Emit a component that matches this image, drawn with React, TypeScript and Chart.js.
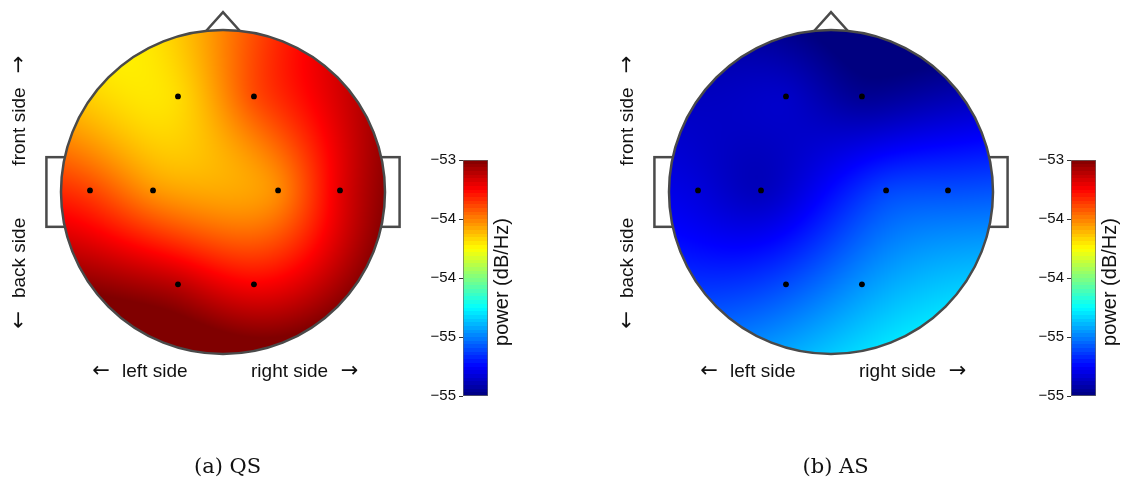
import React, { useEffect, useRef } from "react";
import { Chart, registerables } from "chart.js";
Chart.register(...registerables);

// ---- data (head units: radius 1 = scalp outline) ----
const ELECTRODE_X = [-0.278, 0.191, -0.821, -0.432, 0.34, 0.722, -0.278, 0.191];
const ELECTRODE_Y = [0.59, 0.59, 0.01, 0.01, 0.01, 0.01, -0.57, -0.57];
const QS_POWER = [-53.68, -53.4, -53.38, -53.54, -53.52, -53.2, -53.12, -53.24];
const AS_POWER = [-54.86, -54.96, -54.82, -54.88, -54.62, -54.6, -54.6, -54.46];
const CBAR_MIN = -55;
const CBAR_MAX = -53;
const CBAR_TICKS = [-55, -54.5, -54, -53.5, -53];
const CBAR_TICK_LABELS = ["\u221255", "\u221255", "\u221254", "\u221254", "\u221253"];
const CBAR_TITLE = "power (dB/Hz)";
const PANEL_CAPTIONS = ["(a) QS", "(b) AS"];
const LABEL_LEFT = "left side";
const LABEL_RIGHT = "right side";
const LABEL_FRONT = "front side";
const LABEL_BACK = "back side";

// ---- layout constants ----
const PANEL_LEFT = [0, 608];
const HEAD_W = 430;
const HEAD_H = 481;
const HEAD_CX = 223;
const HEAD_CY = 192;
const HEAD_R = 162;
const XR = 1.2;
const YR = 1.15;
const CB_LEFT_OFFSET = 420;
const CB_TOP = 140;
const CB_W = 110;
const CB_H = 275;
const OUTLINE = "#4a4a4a";
const SANS = "'Liberation Sans', Arial, Helvetica, sans-serif";
const ARROW_FONT = "21px 'DejaVu Sans', sans-serif";

function clamp01(v: number) {
  return v < 0 ? 0 : v > 1 ? 1 : v;
}
function jet(t: number): [number, number, number] {
  t = clamp01(t);
  const r = clamp01(1.5 - Math.abs(4 * t - 3));
  const g = clamp01(1.5 - Math.abs(4 * t - 2));
  const b = clamp01(1.5 - Math.abs(4 * t - 1));
  return [Math.round(r * 255), Math.round(g * 255), Math.round(b * 255)];
}

function green(r: number) {
  return r > 1e-12 ? r * r * (Math.log(r) - 1) : 0;
}
function solve(A: number[][], b: number[]) {
  const n = b.length;
  const M = A.map((row, i) => [...row, b[i]]);
  for (let c = 0; c < n; c++) {
    let p = c;
    for (let r = c + 1; r < n; r++) if (Math.abs(M[r][c]) > Math.abs(M[p][c])) p = r;
    [M[c], M[p]] = [M[p], M[c]];
    for (let r = 0; r < n; r++) {
      if (r === c) continue;
      const f = M[r][c] / M[c][c];
      for (let k = c; k <= n; k++) M[r][k] -= f * M[c][k];
    }
  }
  return M.map((row, i) => row[n] / row[i]);
}
// biharmonic spline with constant + linear terms
function makeSpline(xs: number[], ys: number[], vs: number[]) {
  const n = xs.length;
  const A: number[][] = [];
  for (let i = 0; i < n; i++) {
    const row: number[] = [];
    for (let j = 0; j < n; j++) row.push(green(Math.hypot(xs[i] - xs[j], ys[i] - ys[j])));
    row.push(1, xs[i], ys[i]);
    A.push(row);
  }
  A.push([...xs.map(() => 1), 0, 0, 0]);
  A.push([...xs, 0, 0, 0]);
  A.push([...ys, 0, 0, 0]);
  const sol = solve(A, [...vs, 0, 0, 0]);
  const w = sol.slice(0, n);
  const [a0, a1, a2] = sol.slice(n);
  return (x: number, y: number) => {
    let s = a0 + a1 * x + a2 * y;
    for (let j = 0; j < n; j++) s += w[j] * green(Math.hypot(x - xs[j], y - ys[j]));
    return s;
  };
}

function HeadMap({ values, caption, left }: { values: number[]; caption: string; left: number }) {
  const ref = useRef<HTMLCanvasElement>(null);
  useEffect(() => {
    const spline = makeSpline(ELECTRODE_X, ELECTRODE_Y, values);
    const headPlugin = {
      id: "headPlugin",
      beforeDatasetsDraw(chart: any) {
        const { ctx } = chart;
        const x = chart.scales.x;
        const y = chart.scales.y;
        const cx = x.getPixelForValue(0);
        const cy = y.getPixelForValue(0);
        const rx = x.getPixelForValue(1) - cx;
        const ry = cy - y.getPixelForValue(1);
        ctx.save();
        ctx.strokeStyle = OUTLINE;
        ctx.lineWidth = 2.5;
        for (const s of [-1, 1]) {
          const xa = x.getPixelForValue(s * 1.09);
          const xb = x.getPixelForValue(s * 0.9);
          const ya = y.getPixelForValue(0.215);
          const yb = y.getPixelForValue(-0.215);
          ctx.strokeRect(Math.min(xa, xb), ya, Math.abs(xb - xa), yb - ya);
        }
        ctx.beginPath();
        ctx.moveTo(x.getPixelForValue(-0.135), y.getPixelForValue(0.96));
        ctx.lineTo(x.getPixelForValue(0), y.getPixelForValue(1.11));
        ctx.lineTo(x.getPixelForValue(0.135), y.getPixelForValue(0.96));
        ctx.stroke();
        const ox = Math.floor(cx - rx - 2);
        const oy = Math.floor(cy - ry - 2);
        const w = Math.ceil(2 * rx) + 5;
        const h = Math.ceil(2 * ry) + 5;
        const off = document.createElement("canvas");
        off.width = w;
        off.height = h;
        const octx = off.getContext("2d")!;
        const img = octx.createImageData(w, h);
        for (let j = 0; j < h; j++) {
          const hy = y.getValueForPixel(oy + j + 0.5);
          for (let i = 0; i < w; i++) {
            const hx = x.getValueForPixel(ox + i + 0.5);
            if (hx * hx + hy * hy > 1.04) continue;
            const v = spline(hx, hy);
            const [r, g, b] = jet((v - CBAR_MIN) / (CBAR_MAX - CBAR_MIN));
            const k = (j * w + i) * 4;
            img.data[k] = r;
            img.data[k + 1] = g;
            img.data[k + 2] = b;
            img.data[k + 3] = 255;
          }
        }
        octx.putImageData(img, 0, 0);
        ctx.save();
        ctx.beginPath();
        ctx.ellipse(cx, cy, rx, ry, 0, 0, Math.PI * 2);
        ctx.clip();
        ctx.drawImage(off, ox, oy);
        ctx.restore();
        ctx.beginPath();
        ctx.ellipse(cx, cy, rx, ry, 0, 0, Math.PI * 2);
        ctx.stroke();
        ctx.restore();
      },
      afterDraw(chart: any) {
        const { ctx } = chart;
        const x = chart.scales.x;
        const y = chart.scales.y;
        ctx.save();
        ctx.fillStyle = "#111";
        ctx.textBaseline = "middle";
        const ly = y.getPixelForValue(-1.111);
        ctx.font = ARROW_FONT;
        ctx.textAlign = "center";
        ctx.fillText("\u2190", x.getPixelForValue(-0.753), ly);
        ctx.fillText("\u2192", x.getPixelForValue(0.781), ly);
        ctx.font = `19px ${SANS}`;
        ctx.textAlign = "left";
        ctx.fillText(LABEL_LEFT, x.getPixelForValue(-0.623), ly);
        ctx.fillText(LABEL_RIGHT, x.getPixelForValue(0.173), ly);
        const vx = x.getPixelForValue(-1.253);
        const vert = (txt: string, hy: number, font: string) => {
          ctx.save();
          ctx.translate(vx, y.getPixelForValue(hy));
          ctx.rotate(-Math.PI / 2);
          ctx.font = font;
          ctx.textAlign = "center";
          ctx.fillText(txt, 0, 0);
          ctx.restore();
        };
        vert("\u2192", 0.787, ARROW_FONT);
        vert(LABEL_FRONT, 0.404, `19px ${SANS}`);
        vert(LABEL_BACK, -0.407, `19px ${SANS}`);
        vert("\u2190", -0.79, ARROW_FONT);
        ctx.font = `21px 'DejaVu Serif', 'Liberation Serif', serif`;
        ctx.textAlign = "center";
        ctx.fillText(caption, x.getPixelForValue(0.028), y.getPixelForValue(-1.7));
        ctx.restore();
      },
    };
    const chart = new Chart(ref.current!, {
      type: "scatter",
      data: {
        datasets: [
          {
            data: ELECTRODE_X.map((ex, i) => ({ x: ex, y: ELECTRODE_Y[i] })),
            pointRadius: 2.9,
            pointHoverRadius: 2.9,
            backgroundColor: "#000",
            borderWidth: 0,
          },
        ],
      },
      options: {
        animation: false,
        responsive: false,
        events: [],
        layout: {
          padding: {
            left: HEAD_CX - XR * HEAD_R,
            right: HEAD_W - (HEAD_CX + XR * HEAD_R),
            top: HEAD_CY - YR * HEAD_R,
            bottom: HEAD_H - (HEAD_CY + YR * HEAD_R),
          },
        },
        plugins: { legend: { display: false }, tooltip: { enabled: false } },
        scales: {
          x: { type: "linear", min: -XR, max: XR, display: false },
          y: { type: "linear", min: -YR, max: YR, display: false },
        },
      },
      plugins: [headPlugin],
    } as any);
    return () => chart.destroy();
  }, [values, caption]);
  return (
    <canvas
      ref={ref}
      width={HEAD_W}
      height={HEAD_H}
      style={{ position: "absolute", left, top: 0, width: HEAD_W, height: HEAD_H }}
    />
  );
}

function ColorBar({ left }: { left: number }) {
  const ref = useRef<HTMLCanvasElement>(null);
  useEffect(() => {
    const titlePlugin = {
      id: "cbTitle",
      afterDraw(chart: any) {
        const { ctx, chartArea } = chart;
        const yc = (chartArea.top + chartArea.bottom) / 2 + 4;
        ctx.save();
        ctx.translate(chartArea.right + 14, yc);
        ctx.rotate(-Math.PI / 2);
        ctx.fillStyle = "#111";
        ctx.font = `20px ${SANS}`;
        ctx.textAlign = "center";
        ctx.textBaseline = "middle";
        ctx.fillText(CBAR_TITLE, 0, 0);
        ctx.restore();
      },
    };
    const chart = new Chart(ref.current!, {
      type: "bar",
      data: {
        labels: [""],
        datasets: [
          {
            data: [[CBAR_MIN, CBAR_MAX]],
            backgroundColor: (c: any) => {
              const ch = c.chart;
              const ys = ch.scales && ch.scales.y;
              if (!ch.chartArea || !ys) return "#888";
              const y0 = ys.getPixelForValue(CBAR_MIN);
              const y1 = ys.getPixelForValue(CBAR_MAX);
              const grad = ch.ctx.createLinearGradient(0, y0, 0, y1);
              const N = 64;
              for (let k = 0; k < N; k++) {
                const [r, g, b] = jet((k + 0.5) / N);
                const col = `rgb(${r},${g},${b})`;
                grad.addColorStop(k / N, col);
                grad.addColorStop(Math.min(1, (k + 1) / N - 1e-4), col);
              }
              return grad;
            },
            borderColor: "#666",
            borderWidth: 1,
            borderSkipped: false,
            barPercentage: 1,
            categoryPercentage: 1,
          },
        ],
      },
      options: {
        animation: false,
        responsive: false,
        events: [],
        layout: { padding: { left: 0, top: 20, right: CB_W - 68, bottom: CB_H - 256 } },
        plugins: { legend: { display: false }, tooltip: { enabled: false } },
        scales: {
          x: { display: false },
          y: {
            min: CBAR_MIN,
            max: CBAR_MAX,
            afterFit(s: any) {
              s.width = 43;
            },
            afterBuildTicks(s: any) {
              s.ticks = CBAR_TICKS.map((v) => ({ value: v }));
            },
            ticks: {
              callback: (v: number) => {
                const i = CBAR_TICKS.findIndex((t) => Math.abs(t - v) < 1e-6);
                return i >= 0 ? CBAR_TICK_LABELS[i] : "";
              },
              font: { size: 15, family: SANS },
              color: "#111",
              padding: 3,
            },
            grid: { drawOnChartArea: false, tickLength: 4, color: "#333" },
            border: { display: false },
          },
        },
      },
      plugins: [titlePlugin],
    } as any);
    return () => chart.destroy();
  }, []);
  return (
    <canvas
      ref={ref}
      width={CB_W}
      height={CB_H}
      style={{ position: "absolute", left, top: CB_TOP, width: CB_W, height: CB_H }}
    />
  );
}

export default function App() {
  return (
    <div
      style={{
        position: "absolute",
        left: 0,
        top: 0,
        width: 1131,
        height: 481,
        background: "#fff",
        overflow: "hidden",
      }}
    >
      <HeadMap values={QS_POWER} caption={PANEL_CAPTIONS[0]} left={PANEL_LEFT[0]} />
      <HeadMap values={AS_POWER} caption={PANEL_CAPTIONS[1]} left={PANEL_LEFT[1]} />
      <ColorBar left={PANEL_LEFT[0] + CB_LEFT_OFFSET} />
      <ColorBar left={PANEL_LEFT[1] + CB_LEFT_OFFSET} />
    </div>
  );
}
